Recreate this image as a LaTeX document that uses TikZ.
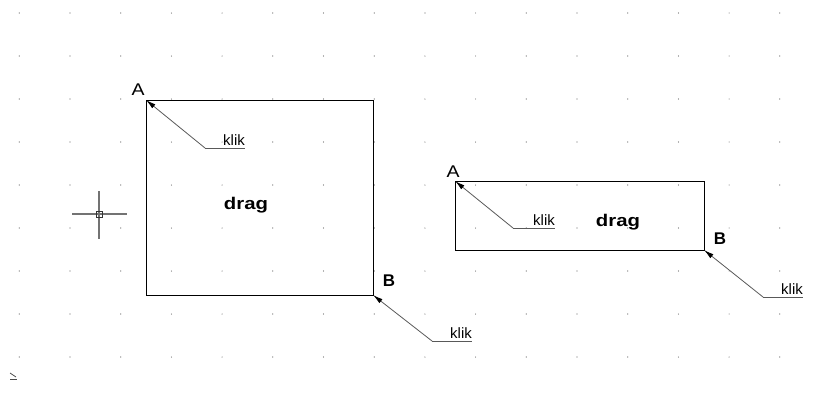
\documentclass[tikz,border=0pt]{standalone}
\usepackage{fontspec}
\setmainfont{Liberation Sans}
\usetikzlibrary{arrows.meta}
\tikzset{
  leader/.style={draw=black!65, line width=0.8bp, {Latex[length=10bp,width=5bp,black]}-},
  shoulder/.style={draw=black!65, line width=0.8bp},
  kliktext/.style={font=\fontsize{15}{15}\selectfont, inner sep=0pt, anchor=base east},
  cornerlbl/.style={font=\fontsize{17}{17}\selectfont, inner sep=0pt},
  dragtext/.style={font=\fontsize{17}{17}\selectfont\bfseries, inner sep=0pt},
  box/.style={draw=black, line width=0.9bp},
  cross/.style={draw=black!55, line width=1.3bp}
}
\begin{document}
\begin{tikzpicture}[x=1bp,y=-1bp]
\useasboundingbox (0,0) rectangle (821,401);
% dot grid
\foreach \i in {0,...,15}{
  \foreach \j in {0,...,8}{
    \fill[black!60] ({19.3+50.7*\i},{13+43*\j}) circle (0.6);
  }
}
% rectangle 1
\coordinate (a1) at (146,100);
\coordinate (b1) at (373,295);
\draw[box] (a1) rectangle (b1);
% rectangle 2
\coordinate (a2) at (455,181);
\coordinate (b2) at (704,250);
\draw[box] (a2) rectangle (b2);
% labels
\node[cornerlbl] (la1) at (138,90) {\scalebox{1.15}[1]{A}};
\node[cornerlbl] (la2) at (453,172) {\scalebox{1.15}[1]{A}};
\node[cornerlbl,font=\fontsize{17}{17}\selectfont\bfseries] (lb1) at (389,281) {B};
\node[cornerlbl,font=\fontsize{17}{17}\selectfont\bfseries] (lb2) at (720,239) {B};
\node[dragtext] (d1) at (246,205) {\scalebox{1.2}[1]{drag}};
\node[dragtext] (d2) at (618,222) {\scalebox{1.2}[1]{drag}};
% leaders
\coordinate (s1) at (205,148); \coordinate (e1) at (245,148);
\coordinate (s2) at (432,341); \coordinate (e2) at (472,341);
\coordinate (s3) at (513,228); \coordinate (e3) at (555,228);
\coordinate (s4) at (763,297); \coordinate (e4) at (803,297);
\draw[leader] (a1) -- (s1);
\draw[shoulder] (s1) -- (e1);
\draw[leader] (b1) -- (s2);
\draw[shoulder] (s2) -- (e2);
\draw[leader] (a2) -- (s3);
\draw[shoulder] (s3) -- (e3);
\draw[leader] (b2) -- (s4);
\draw[shoulder] (s4) -- (e4);
\node[kliktext] (k1) at (245,145.5) {klik};
\node[kliktext] (k2) at (472,338.5) {klik};
\node[kliktext] (k3) at (555,225.5) {klik};
\node[kliktext] (k4) at (803,294.5) {klik};
% crosshair cursor
\coordinate (cc) at (99,214);
\draw[cross] (72,214) -- (127,214);
\draw[cross] (99,191) -- (99,239);
\draw[draw=black!80, line width=0.9bp] (96,211) rectangle (102,217);
% small UCS mark
\draw[black!70, line width=0.8bp] (10,373) -- (16,377);
\draw[black!70, line width=0.8bp] (10,379) -- (17,379);
\end{tikzpicture}
\end{document}
